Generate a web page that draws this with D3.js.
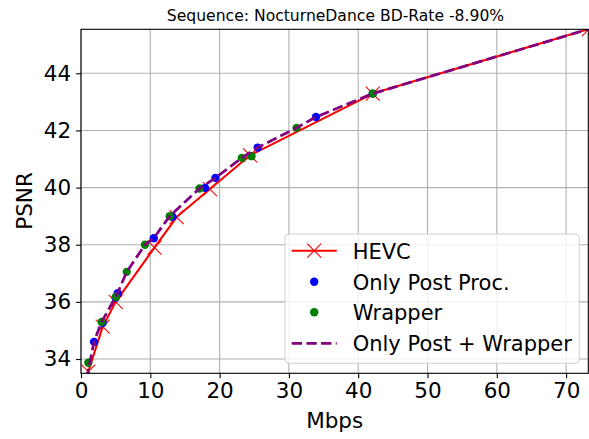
<!DOCTYPE html>
<html><head><meta charset="utf-8">
<script src="https://cdn.jsdelivr.net/npm/d3@7"></script>
<style>body{margin:0;background:#fff;font-family:"DejaVu Sans",sans-serif;}</style>
</head><body><svg id="c" width="589" height="439"></svg>
<script>
const title = "Sequence: NocturneDance BD-Rate -8.90%";
const xLabel = "Mbps", yLabel = "PSNR";
const xTicks = [0,10,20,30,40,50,60,70];
const yTicks = [34,36,38,40,42,44];
const hevcRate = [1.05,3.13,5.0,10.6,13.8,18.6,24.4,42.1,73.3];
const hevcPsnr = [33.56,35.13,36.0,37.9,38.97,39.95,41.13,43.29,45.55];
const postRate = [1.88,3.13,5.0,5.3,10.5,13.2,17.9,19.4,25.5,33.9,42.1];
const postPsnr = [34.6,35.27,36.15,36.3,38.23,38.98,39.99,40.34,41.4,42.47,43.29];
const wrapRate = [1.06,2.98,5.05,6.6,9.23,12.8,17.1,23.2,24.6,31.1,42.1];
const wrapPsnr = [33.87,35.3,36.18,37.05,38.0,39.0,39.97,41.04,41.1,42.09,43.29];
const bothRate = [0.8,1.88,2.98,5.15,6.6,9.23,10.5,12.8,17.1,19.4,23.2,25.5,31.1,33.9,42.1,73.3];
const bothPsnr = [33.3,34.6,35.3,36.24,37.05,38.0,38.23,39.0,39.97,40.34,41.04,41.4,42.09,42.47,43.29,45.55];
const legendLabels = ["HEVC","Only Post Proc.","Wrapper","Only Post + Wrapper"];

const L=81, R=588.3, T=29.3, B=373.3;
const svg = d3.select("#c");
const x = d3.scaleLinear().domain([0,73.2]).range([L,R]);
const y = d3.scaleLinear().domain([33.5,45.54]).range([B,T]);
const zip=(a,b)=>a.map((v,i)=>[v,b[i]]);

svg.append("defs").append("clipPath").attr("id","clip").append("rect")
  .attr("x",L).attr("y",T).attr("width",R-L).attr("height",B-T);

// grid
const g = svg.append("g");
g.selectAll(".gx").data(xTicks).join("line").attr("x1",d=>x(d)).attr("x2",d=>x(d))
  .attr("y1",T).attr("y2",B).attr("stroke","#b0b0b0").attr("stroke-width",1.1);
g.selectAll(".gy").data(yTicks).join("line").attr("y1",d=>y(d)).attr("y2",d=>y(d))
  .attr("x1",L).attr("x2",R).attr("stroke","#b0b0b0").attr("stroke-width",1.1);

const plot = svg.append("g").attr("clip-path","url(#clip)");
const line = d3.line().x(d=>x(d[0])).y(d=>y(d[1]));
plot.append("path").attr("d",line(zip(hevcRate,hevcPsnr))).attr("fill","none")
  .attr("stroke","#ff0000").attr("stroke-width",2.1).attr("stroke-linejoin","round");
const xm = (sel,s)=>sel.attr("d",`M${-s},${-s}L${s},${s}M${-s},${s}L${s},${-s}`)
  .attr("stroke","#ff0000").attr("stroke-width",1.1).attr("fill","none");
plot.selectAll(".hx").data(zip(hevcRate,hevcPsnr)).join("path")
  .attr("transform",d=>`translate(${x(d[0])},${y(d[1])})`).call(xm,7);
plot.selectAll(".bp").data(zip(postRate,postPsnr)).join("circle")
  .attr("cx",d=>x(d[0])).attr("cy",d=>y(d[1])).attr("r",4.2).attr("fill","#0000ff");
plot.selectAll(".gp").data(zip(wrapRate,wrapPsnr)).join("circle")
  .attr("cx",d=>x(d[0])).attr("cy",d=>y(d[1])).attr("r",4.2).attr("fill","#008000");
plot.append("path").attr("d",line(zip(bothRate,bothPsnr))).attr("fill","none")
  .attr("stroke","#800080").attr("stroke-width",2.8).attr("stroke-dasharray","10.3,4.4");

// frame
svg.append("rect").attr("x",L).attr("y",T).attr("width",R-L).attr("height",B-T)
  .attr("fill","none").attr("stroke","#000").attr("stroke-width",1.1);

// axes
const xa = svg.append("g").attr("transform",`translate(0,${B})`)
  .call(d3.axisBottom(x).tickValues(xTicks).tickSize(4.9).tickPadding(4.9).tickFormat(d3.format("d")));
const ya = svg.append("g").attr("transform",`translate(${L},0)`)
  .call(d3.axisLeft(y).tickValues(yTicks).tickSize(4.9).tickPadding(4.9).tickFormat(d3.format("d")));
[xa,ya].forEach(a=>{a.select(".domain").remove();
  a.selectAll("line").attr("stroke","#000").attr("stroke-width",1.1);
  a.selectAll("text").attr("font-family","DejaVu Sans").attr("font-size",21.5).attr("fill","#000");});

svg.append("text").attr("x",335.5).attr("y",21).attr("text-anchor","middle")
  .attr("font-size",15.6).text(title);
svg.append("text").attr("x",(L+R)/2).attr("y",428).attr("text-anchor","middle")
  .attr("font-size",21.5).text(xLabel);
svg.append("text").attr("transform","translate(32,201) rotate(-90)").attr("text-anchor","middle")
  .attr("font-size",21.5).text(yLabel);

// legend
const lg = svg.append("g");
lg.append("rect").attr("x",285).attr("y",234).attr("width",294.3).attr("height",129.3)
  .attr("rx",4).attr("fill","#fff").attr("fill-opacity",0.8).attr("stroke","#d0d0d0").attr("stroke-width",1);
const ly=[250.7,281.7,312.3,343.3];
lg.append("line").attr("x1",291.7).attr("x2",336.7).attr("y1",ly[0]).attr("y2",ly[0])
  .attr("stroke","#ff0000").attr("stroke-width",2.1);
lg.append("path").attr("transform",`translate(314.2,${ly[0]})`).call(xm,7);
lg.append("circle").attr("cx",314.2).attr("cy",ly[1]).attr("r",4.2).attr("fill","#0000ff");
lg.append("circle").attr("cx",314.2).attr("cy",ly[2]).attr("r",4.2).attr("fill","#008000");
lg.append("line").attr("x1",291.7).attr("x2",336.7).attr("y1",ly[3]).attr("y2",ly[3])
  .attr("stroke","#800080").attr("stroke-width",2.8).attr("stroke-dasharray","10.3,4.4");
lg.selectAll(".lt").data(legendLabels).join("text").attr("x",352.7).attr("y",(d,i)=>ly[i]+8)
  .attr("font-size",21).text(d=>d);
</script></body></html>
